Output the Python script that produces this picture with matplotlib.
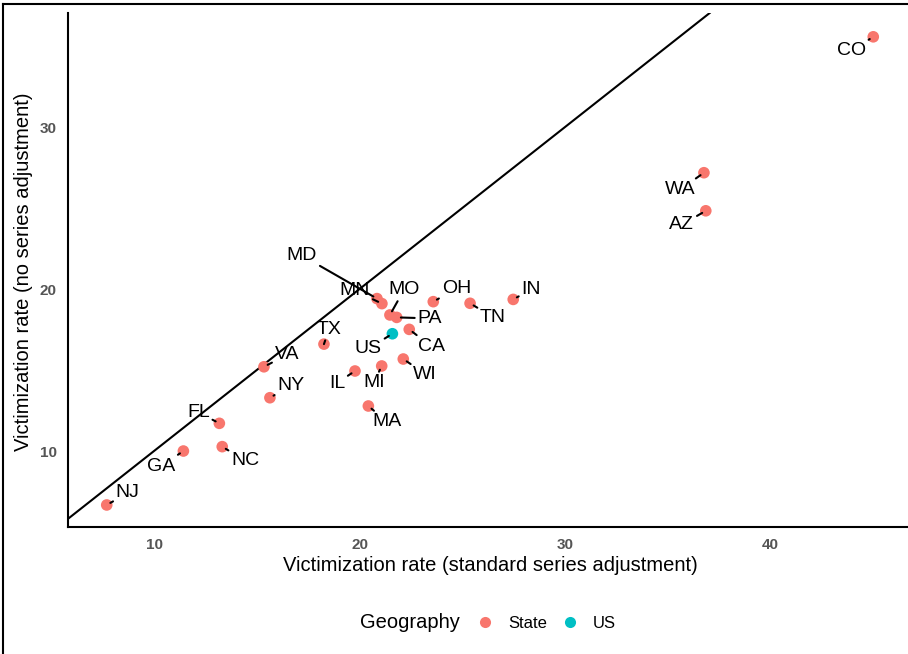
import matplotlib
matplotlib.use('Agg')
import matplotlib.pyplot as plt
from matplotlib.lines import Line2D

plt.rcParams['font.family'] = ['Liberation Sans', 'DejaVu Sans']

# victimization rates
states = ['NJ', 'GA', 'NC', 'FL', 'NY', 'VA', 'TX', 'IL', 'MI', 'MA', 'WI',
          'US', 'CA', 'PA', 'MO', 'MN', 'MD', 'OH', 'TN', 'IN', 'WA', 'AZ', 'CO']
rate_std = [7.70, 11.43, 13.32, 13.18, 15.64, 15.35, 18.27, 19.78, 21.08, 20.43, 22.13,
            21.60, 22.42, 21.81, 21.48, 21.09, 20.85, 23.59, 25.38, 27.48, 36.76, 36.85, 45.0]
rate_none = [6.67, 10.0, 10.27, 11.71, 13.29, 15.20, 16.60, 14.94, 15.25, 12.78, 15.68,
             17.24, 17.51, 18.25, 18.40, 19.10, 19.41, 19.22, 19.12, 19.36, 27.18, 24.83, 35.57]
geography = ['US' if s == 'US' else 'State' for s in states]

# label offsets (pixels, x right / y down) like ggrepel put them
label_dx = [21, -22, 23, -21, 21, 23, 5, -18, -8, 19, 22,
            -24, 22, 33, 14, -27, -75, 23, 23, 18, -24, -24, -22]
label_dy = [-12, 15, 14, -11, -12, -12, -15, 12, 17, 16, 15,
            15, 17, 1, -25, -13, -43, -13, 14, -10, 17, 14, 14]

colors = {'State': '#F8766D', 'US': '#00BFC4'}

fig = plt.figure(figsize=(9.08, 6.54), dpi=100)
ax = fig.add_axes([68 / 908, 127 / 654, 840 / 908, 514 / 654])

ax.axline((0, 0), slope=1, color='black', lw=1.5, zorder=1)

for g in ['State', 'US']:
    xs = [x for x, gg in zip(rate_std, geography) if gg == g]
    ys = [y for y, gg in zip(rate_none, geography) if gg == g]
    ax.scatter(xs, ys, s=70, color=colors[g], edgecolors='none', zorder=3)

for s, x, y, dx, dy in zip(states, rate_std, rate_none, label_dx, label_dy):
    ax.annotate(s, (x, y), xytext=(dx * 0.72, -dy * 0.72), textcoords='offset points',
                ha='center', va='center', fontsize=14, color='black', zorder=4,
                arrowprops=dict(arrowstyle='-', color='black', lw=1.5,
                                shrinkA=0, shrinkB=3))

ax.set_xlim(5.815, 46.69)
ax.set_ylim(5.31, 37.04)
ax.set_xticks([10, 20, 30, 40])
ax.set_yticks([10, 20, 30])
ax.tick_params(length=0, labelsize=11, labelcolor='#555555')
ax.tick_params(axis='x', pad=8)
ax.tick_params(axis='y', pad=8)
for lab in ax.get_xticklabels() + ax.get_yticklabels():
    lab.set_fontweight('bold')

for side in ['top', 'right']:
    ax.spines[side].set_visible(False)
for side in ['left', 'bottom']:
    ax.spines[side].set_linewidth(1.5)
    ax.spines[side].set_color('black')

ax.set_xlabel('Victimization rate (standard series adjustment)', fontsize=14.5)
ax.set_ylabel('Victimization rate (no series adjustment)', fontsize=14.5)
ax.xaxis.set_label_coords((490 - 68) / 840, -29 / 514)
ax.yaxis.set_label_coords(-35 / 840, 0.5 + (13 + 257 - 272) / 514)

# legend laid out like ggplot's bottom legend
fig.text(410 / 908, 1 - 623 / 654, 'Geography', ha='center', va='center', fontsize=14.5)
handles = [Line2D([], [], marker='o', ls='none', markersize=8,
                  markerfacecolor=colors[g], markeredgecolor='none') for g in ['State', 'US']]
fig.legend(handles, ['State', 'US'], ncol=2, frameon=False, fontsize=12,
           loc='center left', bbox_to_anchor=(460 / 908, 1 - 623 / 654),
           handlelength=1.2, handletextpad=0.8, columnspacing=0.75)

# screenshot frame
fig.add_artist(Line2D([3 / 908, 3 / 908], [0, 1 - 4 / 654], color='black', lw=1.5))
fig.add_artist(Line2D([3 / 908, 1], [1 - 4 / 654, 1 - 4 / 654], color='black', lw=1.5))

fig.savefig('out.png', dpi=100)
